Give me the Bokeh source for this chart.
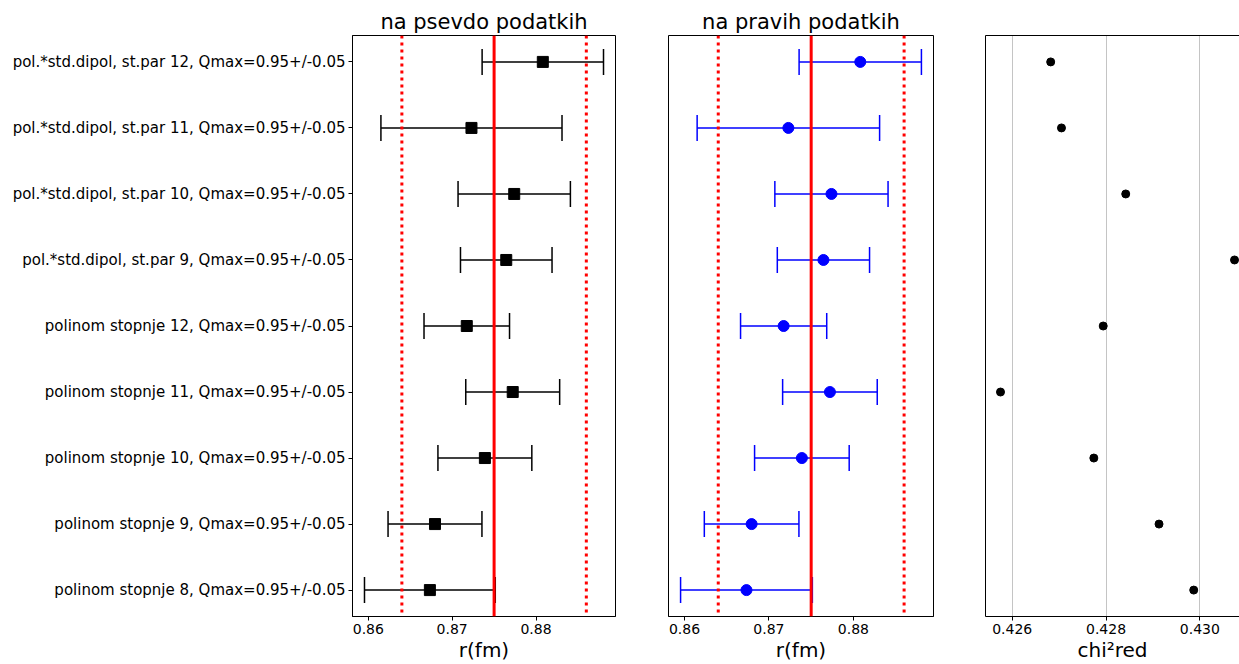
from bokeh.plotting import figure
from bokeh.models import (ColumnDataSource, Whisker, TeeHead, Span, FixedTicker,
                          LinearAxis, Range1d, NumeralTickFormatter, Title)
from bokeh.layouts import row
from bokeh.embed import file_html
from bokeh.resources import INLINE

# ---- data (index 0 = bottom row) ----
labels = [
    "polinom stopnje 8, Qmax=0.95+/-0.05",
    "polinom stopnje 9, Qmax=0.95+/-0.05",
    "polinom stopnje 10, Qmax=0.95+/-0.05",
    "polinom stopnje 11, Qmax=0.95+/-0.05",
    "polinom stopnje 12, Qmax=0.95+/-0.05",
    "pol.*std.dipol, st.par 9, Qmax=0.95+/-0.05",
    "pol.*std.dipol, st.par 10, Qmax=0.95+/-0.05",
    "pol.*std.dipol, st.par 11, Qmax=0.95+/-0.05",
    "pol.*std.dipol, st.par 12, Qmax=0.95+/-0.05",
]
r_pseudo = [0.86734, 0.86795, 0.8739, 0.87722, 0.87174, 0.87645, 0.8774, 0.8723, 0.88081]
r_pseudo_err = [0.0078, 0.0056, 0.0056, 0.0056, 0.0051, 0.00546, 0.0067, 0.0108, 0.00724]
r_real = [0.86734, 0.86795, 0.8739, 0.87722, 0.87174, 0.87645, 0.8774, 0.8723, 0.88081]
r_real_err = [0.0078, 0.0056, 0.0056, 0.0056, 0.0051, 0.00546, 0.0067, 0.0108, 0.00724]
chi2_red = [0.42987, 0.42913, 0.42774, 0.42575, 0.42794, 0.43074, 0.42842, 0.42705, 0.42682]
r_ref = 0.875
r_band = [0.864, 0.886]
r_ticks = [0.86, 0.87, 0.88]
chi_ticks = [0.426, 0.428, 0.430]
titles = ["na psevdo podatkih", "na pravih podatkih"]

FONT = "DejaVu Sans"
H = 664
TOP = 35
BOTTOM = 46

ypos = list(range(len(labels)))
y_range = (-0.4, len(labels) - 1 + 0.4)
r_range = (0.85811, 0.88948)


def style_axes(p):
    for ax in p.xaxis + p.yaxis:
        ax.major_label_text_font = FONT
        ax.major_label_text_font_size = "14px"
        ax.major_label_text_color = "black"
        ax.axis_label_text_font = FONT
        ax.axis_label_text_font_size = "20px"
        ax.axis_label_text_font_style = "normal"
        ax.axis_label_text_color = "black"
        ax.axis_line_color = "black"
        ax.major_tick_line_color = "black"
        ax.major_tick_out = 4
        ax.major_tick_in = 0
        ax.minor_tick_line_color = None
        ax.major_label_standoff = 3
        ax.axis_label_standoff = 1
    p.xgrid.visible = False
    p.ygrid.visible = False
    p.background_fill_color = "white"
    p.border_fill_color = "white"


def add_title(p, text):
    p.title = Title(text=text, text_font=FONT, text_font_size="21px",
                    text_font_style="normal", text_color="black",
                    align="center", standoff=3, offset=0)


def r_panel(values, errors, color, marker, title, width, left, right, show_labels):
    p = figure(width=width, height=H, output_backend="svg", toolbar_location=None,
               x_range=Range1d(*r_range), y_range=Range1d(*y_range),
               min_border_left=left, min_border_right=right,
               min_border_top=TOP, min_border_bottom=BOTTOM)
    add_title(p, title)
    src = ColumnDataSource(dict(
        y=ypos, x=values,
        lo=[v - e for v, e in zip(values, errors)],
        hi=[v + e for v, e in zip(values, errors)],
    ))
    w = Whisker(source=src, base="y", lower="lo", upper="hi", dimension="width",
                line_color=color, line_width=1.5,
                lower_head=TeeHead(size=26, line_color=color, line_width=1.5),
                upper_head=TeeHead(size=26, line_color=color, line_width=1.5))
    p.add_layout(w)
    p.add_layout(Span(location=r_ref, dimension="height", line_color="red", line_width=3))
    for b in r_band:
        p.add_layout(Span(location=b, dimension="height", line_color="red",
                          line_width=3, line_dash="3 4"))
    p.scatter("x", "y", source=src, marker=marker, size=11,
              fill_color=color, line_color=color)
    p.xaxis.ticker = FixedTicker(ticks=r_ticks)
    p.xaxis.formatter = NumeralTickFormatter(format="0.00")
    p.xaxis.axis_label = "r(fm)"
    p.yaxis.ticker = FixedTicker(ticks=ypos)
    p.yaxis.major_label_overrides = {i: t for i, t in zip(ypos, labels)}
    style_axes(p)
    p.yaxis.major_label_text_font_size = "15px"
    if not show_labels:
        p.yaxis.visible = False
    p.outline_line_color = "black"
    p.outline_line_width = 1
    return p


p1 = r_panel(r_pseudo, r_pseudo_err, "black", "square", titles[0], 635, 352, 20, True)
p2 = r_panel(r_real, r_real_err, "blue", "circle", titles[1], 318, 33, 20, False)

# chi2 panel
p3 = figure(width=286, height=H, output_backend="svg", toolbar_location=None,
            x_range=Range1d(0.42543, 0.430846), y_range=Range1d(*y_range),
            min_border_left=32, min_border_right=0,
            min_border_top=TOP, min_border_bottom=BOTTOM)
add_title(p3, " ")
src3 = ColumnDataSource(dict(x=chi2_red, y=ypos))
p3.scatter("x", "y", source=src3, marker="circle", size=8,
           fill_color="black", line_color="black")
p3.xaxis.ticker = FixedTicker(ticks=chi_ticks)
p3.xaxis.formatter = NumeralTickFormatter(format="0.000")
p3.xaxis.axis_label = "chi²red"
p3.yaxis.ticker = FixedTicker(ticks=[])
top_axis = LinearAxis(ticker=FixedTicker(ticks=[]))
p3.add_layout(top_axis, "above")
style_axes(p3)
p3.yaxis.major_label_text_font_size = "0px"
p3.yaxis.major_tick_out = 0
top_axis.major_label_text_font_size = "0px"
top_axis.major_tick_out = 0
top_axis.major_label_standoff = 0
p3.xgrid.visible = True
p3.xgrid.ticker = FixedTicker(ticks=chi_ticks)
p3.xgrid.grid_line_color = "#c4c4c4"
p3.xgrid.grid_line_width = 1
p3.outline_line_color = None

layout = row(p1, p2, p3)
open("out.html", "w").write(file_html(layout, INLINE))
